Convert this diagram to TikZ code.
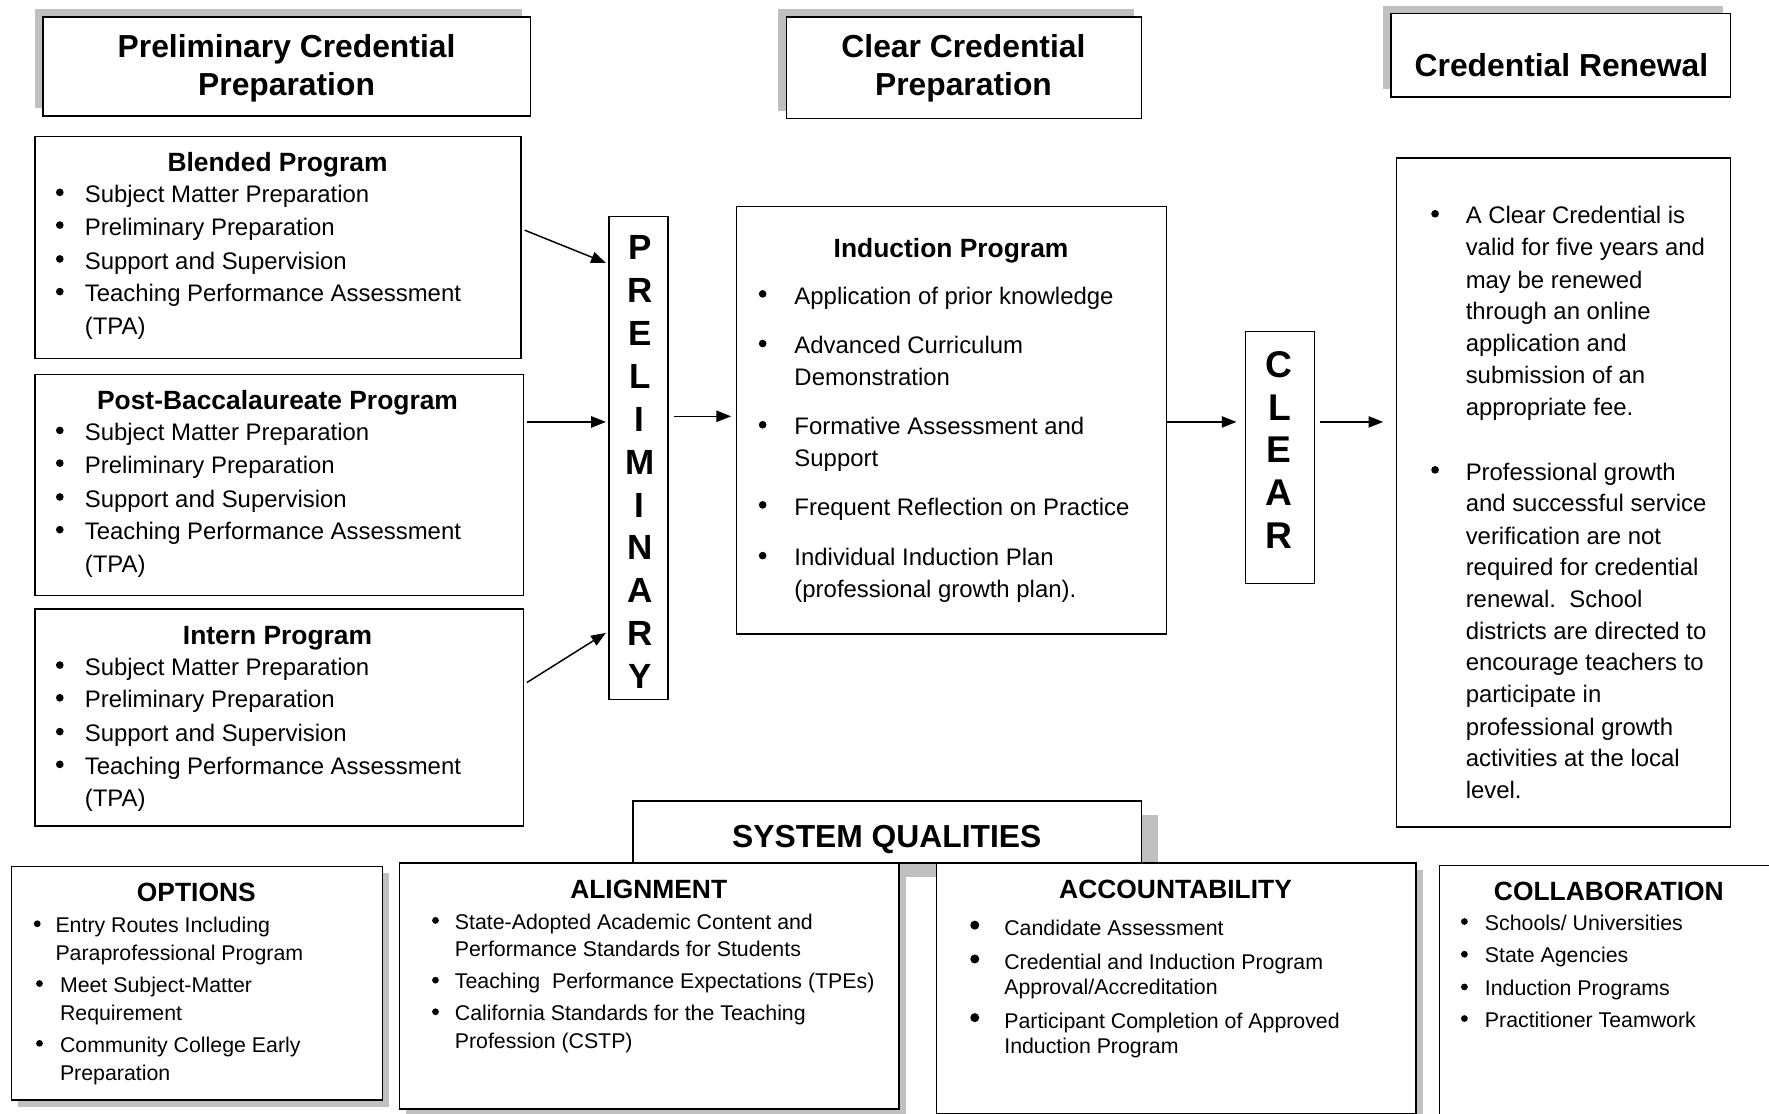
\documentclass[tikz,border=0pt]{standalone}
\usepackage{fontspec}
\setmainfont{Liberation Sans}
\usetikzlibrary{arrows.meta,shadows}
\definecolor{shd}{RGB}{192,192,192}
\newcounter{tlc}
\newcommand\tx[4]{\stepcounter{tlc}\node[#1] (tx\arabic{tlc}) at (#2,#3) {#4};}
\newcommand\bl[3]{\stepcounter{tlc}\node[#1] (tx\arabic{tlc}) at (#2,#3) {};}
\newcommand\bx[6]{\node[#2,anchor=north west,minimum width={(#5-#3)*1pt},minimum height={(#6-#4)*1pt}] (#1) at (#3,#4) {};}
\begin{document}
\begin{tikzpicture}[x=1pt,y=-1pt,
  box/.style={draw,line width=1.3pt,fill=white,inner sep=0pt,outer sep=0pt},
  tshadow/.style={general shadow={fill=shd,shadow xshift=-7pt,shadow yshift=7pt}},
  sqshadow/.style={general shadow={fill=shd,shadow xshift=14pt,shadow yshift=-12pt}},
  bshadow/.style={general shadow={fill=shd,shadow xshift=6pt,shadow yshift=-6pt}},
  body/.style={font=\fontsize{21.2}{25}\selectfont,inner sep=0pt,anchor=base west,yshift=-7.5pt},
  small/.style={font=\fontsize{18.9}{22}\selectfont,inner sep=0pt,anchor=base west,yshift=-6.5pt},
  sub/.style={font=\bfseries\fontsize{23.4}{28}\selectfont,inner sep=0pt,anchor=base,yshift=-8pt},
  head/.style={font=\bfseries\fontsize{28.2}{34}\selectfont,inner sep=0pt,anchor=base,yshift=-10pt},
  bulb/.style={circle,fill=black,inner sep=0pt,minimum size=6.8pt,yshift=1.5pt},
  buls/.style={circle,fill=black,inner sep=0pt,minimum size=6pt,yshift=1.2pt},
  bulbig/.style={circle,fill=black,inner sep=0pt,minimum size=8pt,yshift=1pt},
  letterP/.style={font=\bfseries\fontsize{31}{36}\selectfont,inner sep=0pt,anchor=center},
  letterC/.style={font=\bfseries\fontsize{33}{38}\selectfont,inner sep=0pt,anchor=center},
  arr/.style={line width=1.3pt,-{Triangle[length=13pt,width=10pt]}}]
\useasboundingbox (0,0) rectangle (1568,987);
\clip (0,0) rectangle (1568,987);
\fill[white] (0,0) rectangle (1568,987);

% ---------- title boxes ----------
\bx{prelimT}{box,tshadow}{38}{15}{470}{103}
\tx{head}{254}{41}{Preliminary Credential}
\tx{head}{254}{75}{Preparation}
\bx{clearT}{box,tshadow}{697}{15}{1012}{105}
\tx{head}{854}{41}{Clear Credential}
\tx{head}{854}{75}{Preparation}
\bx{renewT}{box,tshadow}{1233}{12}{1534}{86}
\tx{head}{1384}{58}{Credential Renewal}

% ---------- program boxes ----------
\bx{blended}{box}{31}{121}{462}{318}
\tx{sub}{246}{144}{Blended Program}
\bl{bulb}{53}{172}\tx{body}{75}{172}{Subject Matter Preparation}
\bl{bulb}{53}{201}\tx{body}{75}{201}{Preliminary Preparation}
\bl{bulb}{53}{231}\tx{body}{75}{231}{Support and Supervision}
\bl{bulb}{53}{260}\tx{body}{75}{260}{Teaching Performance Assessment}
\tx{body}{75}{289}{(TPA)}

\bx{postb}{box}{31}{332}{464}{528}
\tx{sub}{246}{355}{Post-Baccalaureate Program}
\bl{bulb}{53}{383}\tx{body}{75}{383}{Subject Matter Preparation}
\bl{bulb}{53}{412}\tx{body}{75}{412}{Preliminary Preparation}
\bl{bulb}{53}{442}\tx{body}{75}{442}{Support and Supervision}
\bl{bulb}{53}{471}\tx{body}{75}{471}{Teaching Performance Assessment}
\tx{body}{75}{500}{(TPA)}

\bx{intern}{box}{31}{540}{464}{732}
\tx{sub}{246}{563}{Intern Program}
\bl{bulb}{53}{591}\tx{body}{75}{591}{Subject Matter Preparation}
\bl{bulb}{53}{620}\tx{body}{75}{620}{Preliminary Preparation}
\bl{bulb}{53}{650}\tx{body}{75}{650}{Support and Supervision}
\bl{bulb}{53}{679}\tx{body}{75}{679}{Teaching Performance Assessment}
\tx{body}{75}{707}{(TPA)}

% ---------- PRELIMINARY ----------
\bx{prelimV}{box}{540}{192}{592}{620}
\foreach \l [count=\i] in {P,R,E,L,I,M,I,N,A,R,Y}
  \node[letterP] (pl\i) at (567,{219+(\i-1)*38.1}) {\l};

% ---------- Induction ----------
\bx{induct}{box}{653}{183}{1034}{562}
\tx{sub}{843}{220}{Induction Program}
\bl{bulb}{676}{262}\tx{body}{704}{262}{Application of prior knowledge}
\bl{bulb}{676}{306}\tx{body}{704}{306}{Advanced Curriculum}
\tx{body}{704}{334}{Demonstration}
\bl{bulb}{676}{378}\tx{body}{704}{378}{Formative Assessment and}
\tx{body}{704}{406}{Support}
\bl{bulb}{676}{449}\tx{body}{704}{449}{Frequent Reflection on Practice}
\bl{bulb}{676}{494}\tx{body}{704}{494}{Individual Induction Plan}
\tx{body}{704}{522}{(professional growth plan).}

% ---------- CLEAR ----------
\bx{clearV}{box}{1104}{294}{1165}{517}
\foreach \l [count=\i] in {C,L,E,A,R}
  \node[letterC] (cl\i) at (1134,{323+(\i-1)*38}) {\l};

% ---------- Renewal ----------
\bx{renew}{box}{1238}{140}{1534}{733}
\bl{bulb}{1272}{191}\tx{body}{1299}{191}{A Clear Credential is}
\tx{body}{1299}{219}{valid for five years and}
\tx{body}{1299}{248}{may be renewed}
\tx{body}{1299}{276}{through an online}
\tx{body}{1299}{304}{application and}
\tx{body}{1299}{332}{submission of an}
\tx{body}{1299}{361}{appropriate fee.}
\bl{bulb}{1272}{418}\tx{body}{1299}{418}{Professional growth}
\tx{body}{1299}{446}{and successful service}
\tx{body}{1299}{475}{verification are not}
\tx{body}{1299}{503}{required for credential}
\tx{body}{1299}{531}{renewal.~~School}
\tx{body}{1299}{559}{districts are directed to}
\tx{body}{1299}{587}{encourage teachers to}
\tx{body}{1299}{615}{participate in}
\tx{body}{1299}{644}{professional growth}
\tx{body}{1299}{672}{activities at the local}
\tx{body}{1299}{700}{level.}

% ---------- arrows ----------
\draw[arr] ([xshift=3pt,yshift=15.5pt]blended.east) -- ([xshift=-3pt,yshift=173pt]prelimV.west);
\draw[arr] ([xshift=3pt,yshift=56pt]postb.east) -- ([xshift=-3pt,yshift=32pt]prelimV.west);
\draw[arr] ([xshift=3pt,yshift=31pt]intern.east) -- ([xshift=-3pt,yshift=-155pt]prelimV.west);
\draw[arr] ([xshift=5pt,yshift=37pt]prelimV.east) -- ([xshift=-5pt,yshift=3.5pt]induct.west);
\draw[arr] ([yshift=-1.5pt]induct.east) -- ([xshift=-8pt,yshift=31.5pt]clearV.west);
\draw[arr] ([xshift=5pt,yshift=31.5pt]clearV.east) -- ([xshift=-12pt,yshift=62.5pt]renew.west);

% ---------- System qualities ----------
\bx{sq}{box,sqshadow}{561}{710}{1012}{765}
\tx{head}{786}{741}{SYSTEM QUALITIES}

\bx{options}{box,bshadow}{10}{768}{339}{975}
\tx{sub}{174}{791}{OPTIONS}
\bl{buls}{33}{820}\tx{small}{49}{820}{Entry Routes Including}
\tx{small}{49}{845}{Paraprofessional Program}
\bl{buls}{35}{873}\tx{small}{53}{873}{Meet Subject-Matter}
\tx{small}{53}{898}{Requirement}
\bl{buls}{35}{926}\tx{small}{53}{926}{Community College Early}
\tx{small}{53}{951}{Preparation}

\bx{align}{box,bshadow}{354}{765}{797}{983}
\tx{sub}{575}{788}{ALIGNMENT}
\bl{buls}{386}{817}\tx{small}{403}{817}{State-Adopted Academic Content and}
\tx{small}{403}{841}{Performance Standards for Students}
\bl{buls}{386}{870}\tx{small}{403}{870}{Teaching~~Performance Expectations (TPEs)}
\bl{buls}{386}{898}\tx{small}{403}{898}{California Standards for the Teaching}
\tx{small}{403}{923}{Profession (CSTP)}

\bx{acct}{box,bshadow}{830}{765}{1255}{987}
\tx{sub}{1042}{788}{ACCOUNTABILITY}
\bl{bulbig}{864}{821}\tx{small}{890}{823}{Candidate Assessment}
\bl{bulbig}{864}{851}\tx{small}{890}{853}{Credential and Induction Program}
\tx{small}{890}{875}{Approval/Accreditation}
\bl{bulbig}{864}{903}\tx{small}{890}{905}{Participant Completion of Approved}
\tx{small}{890}{927}{Induction Program}

\bx{collab}{box}{1276}{767}{1590}{1010}
\tx{sub}{1426}{790}{COLLABORATION}
\bl{buls}{1298}{818}\tx{small}{1316}{818}{Schools/ Universities}
\bl{buls}{1298}{847}\tx{small}{1316}{847}{State Agencies}
\bl{buls}{1298}{876}\tx{small}{1316}{876}{Induction Programs}
\bl{buls}{1298}{904}\tx{small}{1316}{904}{Practitioner Teamwork}
\end{tikzpicture}
\end{document}
